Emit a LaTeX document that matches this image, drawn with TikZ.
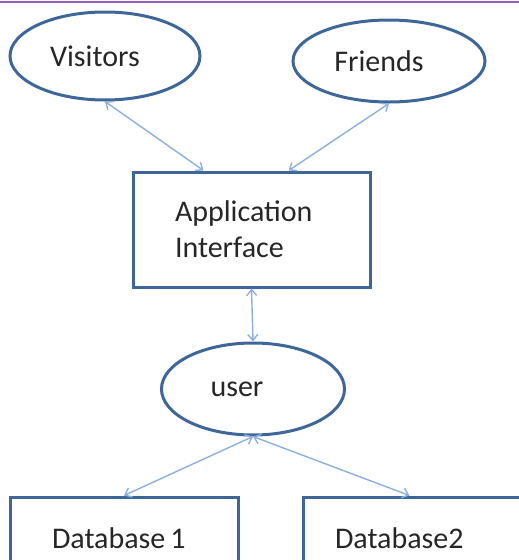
\documentclass[tikz,border=0pt]{standalone}
\usepackage{fontspec}
\setmainfont{Carlito}
\usetikzlibrary{shapes.geometric,arrows.meta,calc}
\definecolor{edgeblue}{RGB}{62,102,152}
\definecolor{linkblue}{RGB}{140,176,222}
\definecolor{rulepurple}{RGB}{150,95,190}
\begin{document}
\begin{tikzpicture}[x=1pt, y=-1pt, font=\fontsize{30}{36}\selectfont,
  ent/.style={ellipse, draw=edgeblue, text=black!85, line width=3pt, inner sep=0pt},
  box/.style={rectangle, draw=edgeblue, text=black!85, line width=3pt, align=left, anchor=center},
  link/.style={draw=linkblue, line width=1.4pt, {Straight Barb[length=6pt,width=10pt]}-{Straight Barb[length=6pt,width=10pt]}}]
\clip (0,0) rectangle (519,560);
\draw[rulepurple, line width=2pt] (0,2) -- (519,2);
\node[ent, minimum width=190, minimum height=88] (visitors) at (105,56) {Visitors\hspace*{20pt}};
\node[ent, minimum width=192, minimum height=82] (friends) at (389,61) {Friends\hspace*{20pt}};
\node[box, minimum height=115, text width=153, inner xsep=42] (app) at (251.5,229.5) {Application\\Interface};
\node[ent, minimum width=183, minimum height=92] (user) at (253,389) {user\hspace*{32pt}};
\node[box, minimum height=83, text width=144, inner xsep=42] (db1) at (124,538.5) {Database\,1};
\node[box, minimum height=83, text width=173, inner xsep=32] (db2) at (421.5,538.5) {Database2};
\draw[link] (visitors.south) -- ($(app.north west)!0.3!(app.north east)$);
\draw[link] (friends.south) -- ($(app.north west)!0.655!(app.north east)$);
\draw[link] (app.south) -- (user.north);
\draw[link] (user.south) -- (db1.north);
\draw[link] (user.south) -- ($(db2.north west)!0.45!(db2.north east)$);
\end{tikzpicture}
\end{document}
